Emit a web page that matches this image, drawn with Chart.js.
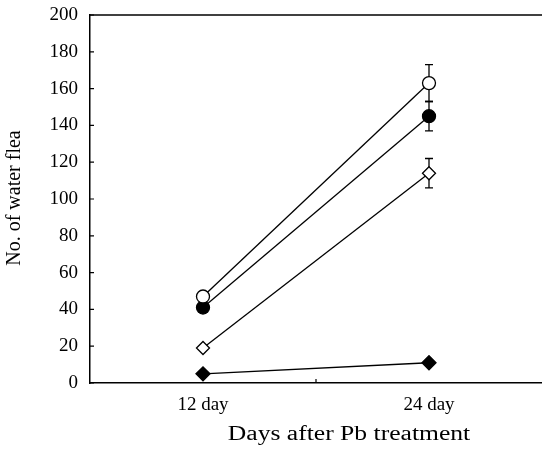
<!DOCTYPE html>
<html lang="en">
<head>
  <meta charset="UTF-8" />
  <title>Water flea vs Pb treatment</title>
  <script src="https://cdn.jsdelivr.net/npm/chart.js"></script>
  <style>
    html, body { margin: 0; padding: 0; background: #fff; }
    #wrap { width: 542px; height: 454px; }
  </style>
</head>
<body>
  <div id="wrap"><canvas id="fleaChart" width="542" height="454"></canvas></div>

  <script>
    // data
    const days = ["12 day", "24 day"];
    const yTicks = [0, 20, 40, 60, 80, 100, 120, 140, 160, 180, 200];

    const openCircle = [47, 163];
    const openCircleErr = [0, 10];
    const filledCircle = [41, 145];
    const filledCircleErr = [0, 8];
    const openDiamond = [19, 114];
    const openDiamondErr = [0, 8];
    const filledDiamond = [5, 11];
    const filledDiamondErr = [0, 0];

    const serif = "'Liberation Serif', 'DejaVu Serif', serif";

    function series(values, errs, style, filled, radius) {
      return {
        data: values,
        errors: errs,
        borderColor: "#000",
        borderWidth: 1.3,
        pointStyle: style,
        pointRadius: radius,
        pointHoverRadius: radius,
        pointBorderWidth: 1.3,
        pointBorderColor: "#000",
        pointBackgroundColor: filled ? "#000" : "#fff",
        tension: 0
      };
    }

    // error bars, inward ticks, top frame line and axis titles
    const extras = {
      id: "extras",
      beforeDatasetsDraw(chart) {
        const ctx = chart.ctx;
        const x = chart.scales.x, y = chart.scales.y;
        ctx.save();
        ctx.strokeStyle = "#000";
        ctx.lineWidth = 1.3;
        chart.data.datasets.forEach((ds) => {
          ds.data.forEach((v, i) => {
            const e = ds.errors[i];
            if (!e) return;
            const px = x.getPixelForValue(i);
            const top = y.getPixelForValue(v + e);
            const bot = y.getPixelForValue(v - e);
            ctx.beginPath();
            ctx.moveTo(px, top); ctx.lineTo(px, bot);
            ctx.moveTo(px - 4, top); ctx.lineTo(px + 4, top);
            ctx.moveTo(px - 4, bot); ctx.lineTo(px + 4, bot);
            ctx.stroke();
          });
        });
        ctx.restore();
      },
      afterDraw(chart) {
        const ctx = chart.ctx;
        const a = chart.chartArea;
        const x = chart.scales.x, y = chart.scales.y;
        ctx.save();
        ctx.strokeStyle = "#000";
        ctx.lineWidth = 1.5;
        ctx.beginPath();
        ctx.moveTo(a.left, a.top);
        ctx.lineTo(a.right, a.top);
        ctx.stroke();

        ctx.lineWidth = 1.2;
        ctx.beginPath();
        yTicks.forEach((t) => {
          const py = y.getPixelForValue(t);
          ctx.moveTo(a.left, py);
          ctx.lineTo(a.left + 4, py);
        });
        // tick between the two categories
        const mid = (x.getPixelForValue(0) + x.getPixelForValue(1)) / 2;
        ctx.moveTo(mid, a.bottom);
        ctx.lineTo(mid, a.bottom - 4);
        ctx.stroke();

        ctx.fillStyle = "#000";
        ctx.font = "20px " + serif;
        ctx.textAlign = "center";
        ctx.textBaseline = "middle";
        // the scanned figure is a bit wider than tall
        ctx.save();
        ctx.translate(349, 435);
        ctx.scale(1.28, 1);
        ctx.fillText("Days after Pb treatment", 0, 0);
        ctx.restore();

        ctx.translate(15, 198);
        ctx.rotate(-Math.PI / 2);
        ctx.fillText("No. of water flea", 0, 0);
        ctx.restore();
      }
    };

    new Chart(document.getElementById("fleaChart"), {
      type: "line",
      data: {
        labels: days,
        datasets: [
          series(openCircle, openCircleErr, "circle", false, 6.5),
          series(filledCircle, filledCircleErr, "circle", true, 6.5),
          series(openDiamond, openDiamondErr, "rectRot", false, 6.5),
          series(filledDiamond, filledDiamondErr, "rectRot", true, 7)
        ]
      },
      options: {
        responsive: false,
        animation: false,
        layout: { autoPadding: false, padding: { top: 15, right: 0, left: 0, bottom: 0 } },
        plugins: { legend: { display: false }, tooltip: { enabled: false } },
        scales: {
          x: {
            type: "category",
            offset: true,
            grid: { display: false, drawTicks: false },
            border: { display: true, color: "#000", width: 1.5 },
            ticks: { color: "#000", padding: 11, font: { family: serif, size: 19 } },
            afterFit(s) { s.height = 71; s.paddingLeft = 0; s.paddingRight = 0; }
          },
          y: {
            min: 0,
            max: 200,
            afterBuildTicks(s) { s.ticks = yTicks.map((v) => ({ value: v })); },
            grid: { display: false, drawTicks: false },
            border: { display: true, color: "#000", width: 1.5 },
            ticks: { color: "#000", padding: 12, font: { family: serif, size: 19 } },
            afterFit(s) { s.width = 90; s.paddingTop = 0; s.paddingBottom = 0; }
          }
        }
      },
      plugins: [extras]
    });
  </script>
</body>
</html>
